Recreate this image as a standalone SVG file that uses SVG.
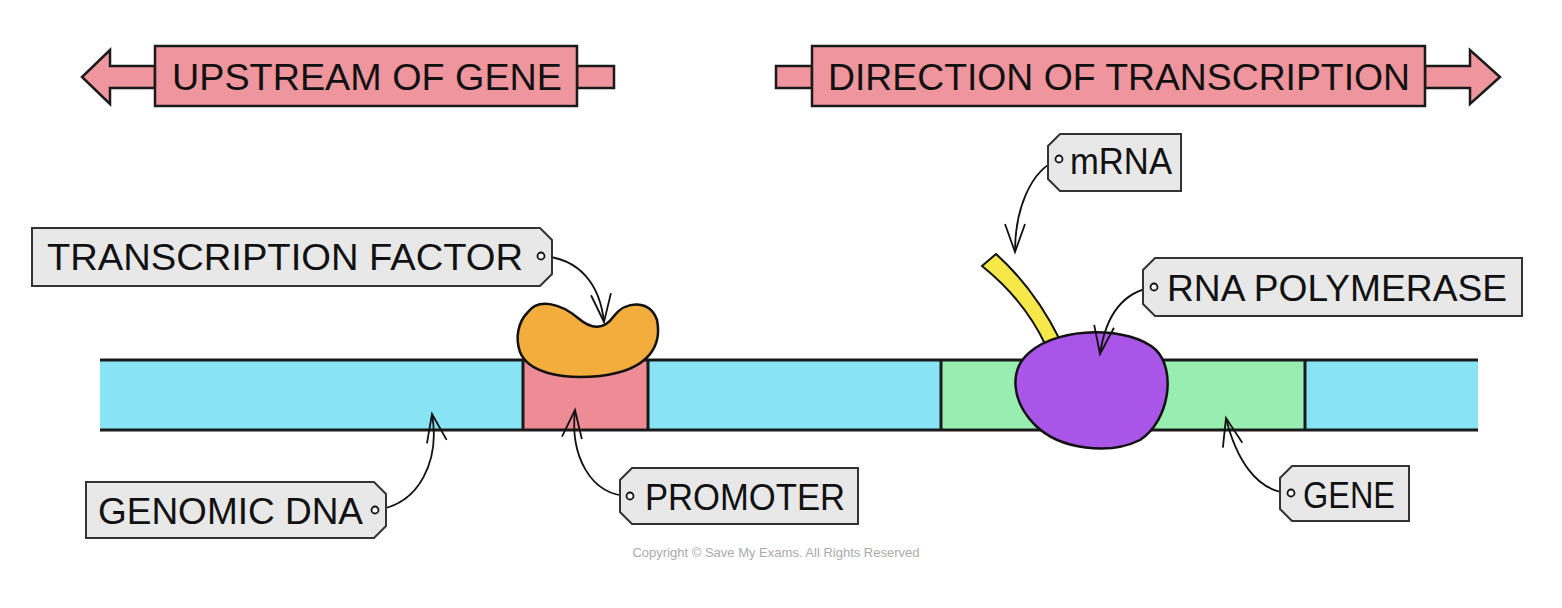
<svg xmlns="http://www.w3.org/2000/svg" width="1562" height="608" viewBox="0 0 1562 608">
<style>
.ar{fill:#ef959d;stroke:#1a1a1a;stroke-width:2.5}
.tag{fill:#e8e8e8;stroke:#333;stroke-width:2}
.t{font-family:"Liberation Sans",Arial,sans-serif;font-size:36px;fill:#111}
.c{fill:none;stroke:#111;stroke-width:1.8}
.hole{fill:#fff;stroke:#111;stroke-width:1.8}
</style>
<defs>
<marker id="v" viewBox="-30 -14 34 28" markerWidth="34" markerHeight="28" refX="0" refY="0" orient="auto" markerUnits="userSpaceOnUse">
<path d="M-28,-10 L0,0 L-28,10" fill="none" stroke="#111" stroke-width="1.8"/>
</marker>
</defs>
<rect width="1562" height="608" fill="#fff"/>
<g id="upstream">
<path class="ar" d="M155,66 H110 V50 L82,77 L110,104 V88 H155 Z"/>
<rect class="ar" x="577" y="66" width="37" height="22"/>
<rect class="ar" x="155" y="46" width="422" height="60"/>
<text class="t" x="172" y="90" textLength="390" lengthAdjust="spacingAndGlyphs">UPSTREAM  OF  GENE</text>
</g>
<g id="direction">
<rect class="ar" x="776" y="66" width="36" height="22"/>
<path class="ar" d="M1425,66 H1470 V50 L1500,77 L1470,104 V88 H1425 Z"/>
<rect class="ar" x="812" y="46" width="613" height="60"/>
<text class="t" x="828" y="90" textLength="582" lengthAdjust="spacingAndGlyphs">DIRECTION  OF  TRANSCRIPTION</text>
</g>
<g id="dna">
<rect x="100" y="360" width="1378" height="70" fill="#88e4f4"/>
<rect x="523" y="360" width="125" height="70" fill="#ee8c96"/>
<rect x="941" y="360" width="364" height="70" fill="#98eeb0"/>
<path d="M100,360 H1478 M100,430 H1478 M523,360 V430 M648,360 V430 M941,360 V430 M1305,360 V430" stroke="#1a1a1a" stroke-width="3" fill="none"/>
</g>
<g id="transcription-factor-shape">
<path d="M528,312 C538,298 560,303 578,318 C592,330 604,330 614,316 C626,300 650,300 657,320 C662,345 650,370 600,376 C560,380 528,372 520,352 C515,338 518,322 528,312 Z" fill="#f2ad3c" stroke="#111" stroke-width="2.5"/>
</g>
<g id="mrna-strand">
<path d="M982,266 L996,254 C1025,280 1045,310 1060,340 L1046,346 C1032,316 1012,290 982,266 Z" fill="#f7e84a" stroke="#111" stroke-width="2"/>
</g>
<g id="rna-polymerase-shape">
<path d="M1030,352 C1060,326 1130,326 1156,350 C1176,370 1170,420 1140,440 C1110,455 1060,450 1035,425 C1012,402 1008,370 1030,352 Z" fill="#a855e8" stroke="#111" stroke-width="2.5"/>
</g>
<g id="connectors">
<path class="c" d="M541,256 C580,258 600,285 604,322" marker-end="url(#v)"/>
<path class="c" d="M375,510 C420,505 440,460 432,414" marker-end="url(#v)"/>
<path class="c" d="M630,496 C590,496 570,455 575,410" marker-end="url(#v)"/>
<path class="c" d="M1059,159 C1030,170 1015,210 1015,252" marker-end="url(#v)"/>
<path class="c" d="M1154,287 C1120,292 1105,320 1100,354" marker-end="url(#v)"/>
<path class="c" d="M1291,493 C1255,493 1235,455 1226,418" marker-end="url(#v)"/>
</g>
<g id="label-transcription-factor">
<path class="tag" d="M32,228 H540 L552,240 V274 L540,286 H32 Z"/>
<circle class="hole" cx="541" cy="256" r="3.5"/>
<text class="t" x="47" y="270" textLength="476" lengthAdjust="spacingAndGlyphs">TRANSCRIPTION  FACTOR</text>
</g>
<g id="label-genomic-dna">
<path class="tag" d="M86,482 H374 L386,494 V526 L374,538 H86 Z"/>
<circle class="hole" cx="375" cy="510" r="3.5"/>
<text class="t" x="98" y="524" textLength="265" lengthAdjust="spacingAndGlyphs">GENOMIC  DNA</text>
</g>
<g id="label-promoter">
<path class="tag" d="M632,468 H858 V524 H632 L620,512 V480 Z"/>
<circle class="hole" cx="630" cy="496" r="3.5"/>
<text class="t" x="645" y="510" textLength="200" lengthAdjust="spacingAndGlyphs">PROMOTER</text>
</g>
<g id="label-mrna">
<path class="tag" d="M1060,134 H1181 V191 H1060 L1048,179 V146 Z"/>
<circle class="hole" cx="1059" cy="159" r="3.5"/>
<text class="t" x="1070" y="174" textLength="102" lengthAdjust="spacingAndGlyphs">mRNA</text>
</g>
<g id="label-rna-polymerase">
<path class="tag" d="M1155,258 H1522 V316 H1155 L1143,304 V270 Z"/>
<circle class="hole" cx="1154" cy="287" r="3.5"/>
<text class="t" x="1167" y="301" textLength="340" lengthAdjust="spacingAndGlyphs">RNA  POLYMERASE</text>
</g>
<g id="label-gene">
<path class="tag" d="M1292,466 H1409 V521 H1292 L1280,509 V478 Z"/>
<circle class="hole" cx="1291" cy="493" r="3.5"/>
<text class="t" x="1303" y="508" textLength="92" lengthAdjust="spacingAndGlyphs">GENE</text>
</g>
<text x="776" y="557" text-anchor="middle" font-family="Liberation Sans,Arial,sans-serif" font-size="13" fill="#aaa">Copyright © Save My Exams. All Rights Reserved</text>
</svg>
